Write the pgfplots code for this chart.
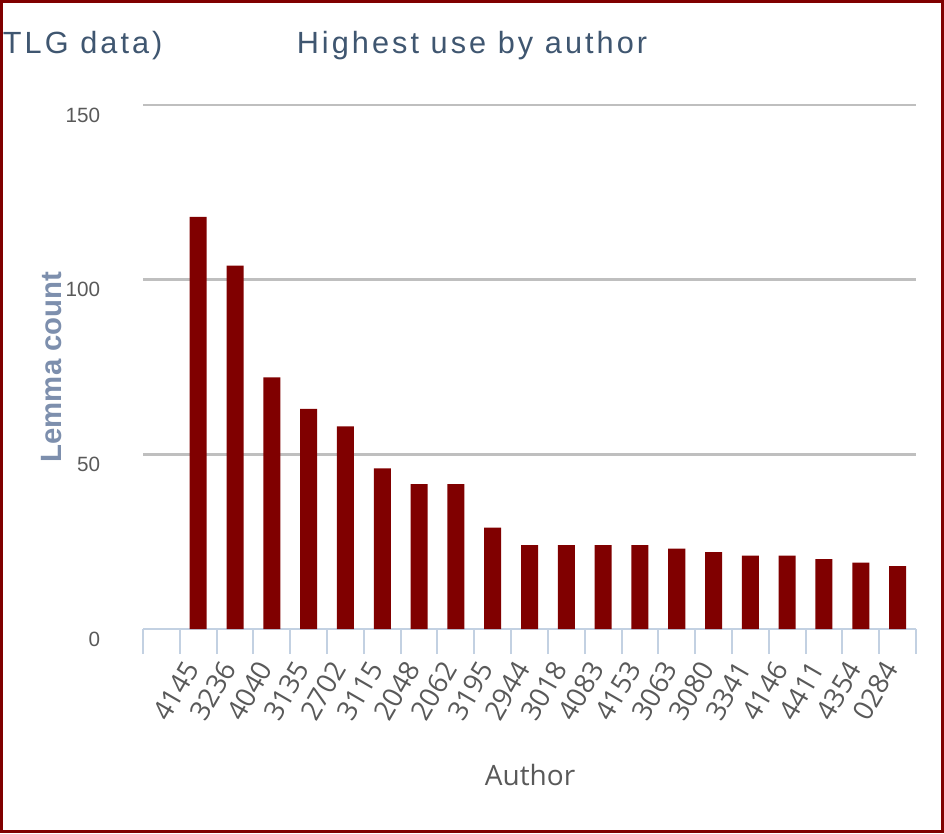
\documentclass[border=0pt]{standalone}
\usepackage{fontspec}
\setmainfont{Liberation Sans}
\newfontfamily\osans{Open Sans}
\newfontfamily\titlefont[LetterSpace=10]{Liberation Sans}
\usepackage{pgfplots}
\pgfplotsset{compat=1.18}
\definecolor{barred}{HTML}{800000}
\definecolor{titleblue}{HTML}{3F5670}
\definecolor{ylabblue}{HTML}{7D8FAD}
\definecolor{tickgray}{HTML}{595959}
\definecolor{gridgray}{HTML}{BFBFBF}
\definecolor{axisblue}{HTML}{C3D1E2}
\begin{document}
\begin{tikzpicture}
\path[use as bounding box] (0,0) rectangle (708pt,624.75pt);
\begin{axis}[
  at={(107.25pt,153pt)}, anchor=south west,
  scale only axis, width=579.75pt, height=393pt,
  xmin=-0.5, xmax=20.5, ymin=0, ymax=150,
  /pgf/number format/assume math mode=true,
  axis x line*=bottom, axis y line*=left,
  y axis line style={draw=none},
  x axis line style={draw=axisblue, line width=1.5pt, -},
  ytick={0,50,100,150},
  ymajorgrids, grid style={draw=gridgray, line width=1.9pt},
  major y tick style={draw=none},
  yticklabel style={font=\fontsize{15.5}{15.5}\selectfont, text=tickgray, inner sep=0pt, anchor=east, xshift=-32pt, yshift=-7.5pt},
  xtick={1,...,20},
  xticklabels={4145,3236,4040,3135,2702,3115,2048,2062,3195,2944,3018,4083,4153,3063,3080,3341,4146,4411,4354,0284},
  minor xtick={-0.5,0.5,...,20.5},
  major x tick style={draw=none},
  minor x tick style={draw=axisblue, line width=1.5pt},
  tick align=outside,
  major tick length=0pt, minor tick length=18.75pt,
  xticklabel style={font=\osans\fontsize{20.5}{20.5}\selectfont, text=tickgray, inner sep=0pt, yshift=-22pt, xshift=-11.5pt, rotate=60, anchor=north east},
  clip=false,
]
\addplot[ybar, bar width=12.75pt, fill=barred, draw=none] coordinates {
(1,118) (2,104) (3,72) (4,63) (5,58) (6,46) (7,41.5) (8,41.5) (9,29) (10,24)
(11,24) (12,24) (13,24) (14,23) (15,22) (16,21) (17,21) (18,20) (19,19) (20,18)
};
\end{axis}
\node[font=\titlefont\fontsize{23}{23}\selectfont, text=titleblue, anchor=center] at (354pt,590.5pt) {Highest use by author};
\node[font=\titlefont\fontsize{23}{23}\selectfont, text=titleblue, anchor=west, inner sep=0pt] at (2pt,590.5pt) {TLG data)};
\node[font=\bfseries\fontsize{22}{22}\selectfont, text=ylabblue, rotate=90, anchor=center] at (39pt,349.5pt) {Lemma count};
\node[font=\osans\fontsize{21}{21}\selectfont, text=tickgray, anchor=center] at (397.5pt,43.5pt) {Author};
\draw[barred, line width=2.25pt] (1.125pt,1.125pt) rectangle (706.875pt,623.625pt);
\end{tikzpicture}
\end{document}
